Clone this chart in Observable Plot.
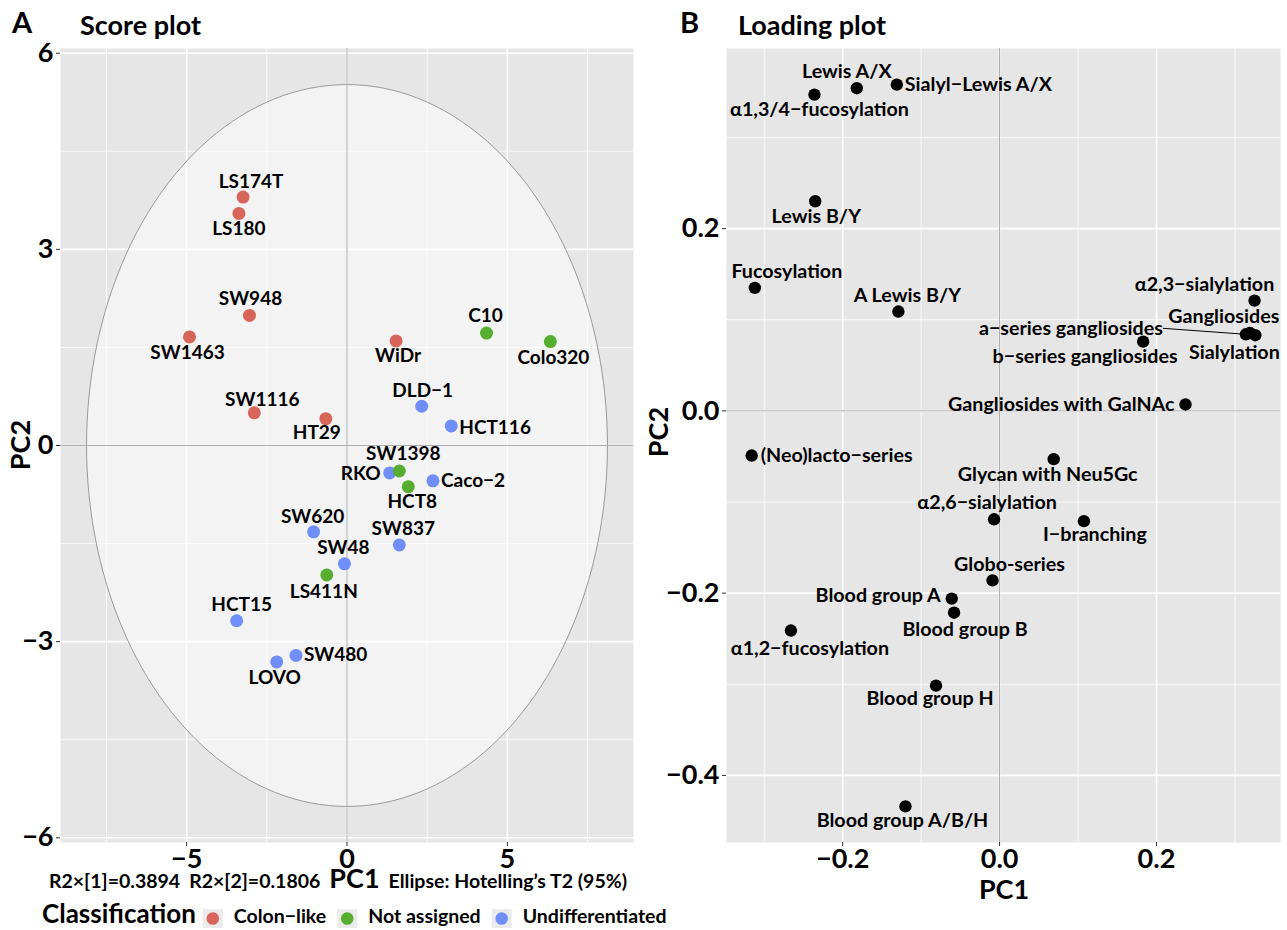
<!DOCTYPE html>
<html>
<head>
<meta charset="utf-8">
<script src="https://cdn.jsdelivr.net/npm/d3@7"></script>
<script src="https://cdn.jsdelivr.net/npm/@observablehq/plot@0.6"></script>
<style>
  body { margin: 0; background: #fff; }
  #wrap { position: relative; width: 1287px; height: 930px; overflow: hidden; font-family: Lato, sans-serif; }
  #wrap > svg, #wrap > figure { position: absolute; margin: 0; }
</style>
</head>
<body>
<div id="wrap"></div>
<script>
// ---------------- DATA ----------------
const cellLines = ["LS174T","LS180","SW948","SW1463","WiDr","C10","Colo320","SW1116","HT29","DLD−1","HCT116","RKO","SW1398","Caco−2","HCT8","SW620","SW837","SW48","LS411N","HCT15","SW480","LOVO"];
const scorePC1 = [-3.24,-3.37,-3.04,-4.91,1.53,4.35,6.34,-2.89,-0.66,2.33,3.25,1.33,1.63,2.68,1.91,-1.04,1.63,-0.08,-0.63,-3.44,-1.59,-2.19];
const scorePC2 = [3.80,3.55,1.99,1.66,1.60,1.72,1.59,0.50,0.41,0.60,0.30,-0.42,-0.39,-0.54,-0.63,-1.32,-1.52,-1.81,-1.98,-2.68,-3.21,-3.31];
const cellClass = ["Colon−like","Colon−like","Colon−like","Colon−like","Colon−like","Not assigned","Not assigned","Colon−like","Colon−like","Undifferentiated","Undifferentiated","Undifferentiated","Not assigned","Undifferentiated","Not assigned","Undifferentiated","Undifferentiated","Undifferentiated","Not assigned","Undifferentiated","Undifferentiated","Undifferentiated"];
const classNames = ["Colon−like","Not assigned","Undifferentiated"];
const r2x = ["0.3894","0.1806"];
const ellipseRadii = [8.12, 5.52]; // Hotelling's T2 (95%) semi-axes
const scoreTicksX = [-5, 0, 5];
const scoreTicksY = [-6, -3, 0, 3, 6];

const glycanFeatures = ["α1,3/4−fucosylation","Lewis A/X","Sialyl−Lewis A/X","Lewis B/Y","Fucosylation","A Lewis B/Y","α2,3−sialylation","Gangliosides","Sialylation","a−series gangliosides","b−series gangliosides","Gangliosides with GalNAc","(Neo)lacto−series","Glycan with Neu5Gc","α2,6−sialylation","I−branching","Globo-series","Blood group A","Blood group B","α1,2−fucosylation","Blood group H","Blood group A/B/H"];
const loadPC1 = [-0.236,-0.182,-0.131,-0.235,-0.312,-0.129,0.325,0.319,0.326,0.314,0.183,0.237,-0.316,0.069,-0.007,0.1075,-0.009,-0.061,-0.058,-0.266,-0.081,-0.120];
const loadPC2 = [0.347,0.354,0.358,0.230,0.135,0.109,0.121,0.0855,0.083,0.084,0.076,0.007,-0.049,-0.053,-0.119,-0.121,-0.186,-0.206,-0.2215,-0.241,-0.3015,-0.434];
const loadTicksX = [-0.2, 0, 0.2];
const loadTicksY = [-0.4, -0.2, 0, 0.2];

// ---------------- STYLE / LAYOUT ----------------
const classColors = ["#d8655a", "#57ad2f", "#6f8ef7"];
const panelBg = "#e6e6e6";
const FONT = "Lato, sans-serif";
// label placement: [textAnchor, dx px, dy px] relative to the point (repel-like layout)
const scoreLabelLayout = {
  "LS174T":["middle",8,-15], "LS180":["middle",0,16], "SW948":["middle",1,-16], "SW1463":["middle",-2,16],
  "WiDr":["middle",2,15], "C10":["middle",-1,-17], "Colo320":["middle",3,16], "SW1116":["middle",8,-13],
  "HT29":["middle",-9,14], "DLD−1":["middle",1,-15], "HCT116":["start",8,2], "RKO":["end",-9,1],
  "SW1398":["middle",4,-17], "Caco−2":["start",8,0], "HCT8":["middle",4,15], "SW620":["middle",-1,-15],
  "SW837":["middle",4,-16], "SW48":["middle",-1,-16], "LS411N":["middle",-3,17], "HCT15":["middle",5,-16],
  "SW480":["start",8,0], "LOVO":["middle",-2,16]
};
const loadLabelLayout = {
  "α1,3/4−fucosylation":["middle",5,15], "Lewis A/X":["middle",-10,-17], "Sialyl−Lewis A/X":["start",8,0],
  "Lewis B/Y":["middle",1,15], "Fucosylation":["middle",32,-16], "A Lewis B/Y":["middle",9,-16],
  "α2,3−sialylation":["middle",-50,-16], "Gangliosides":["middle",-26,-16], "Sialylation":["middle",-21,17],
  "a−series gangliosides":["end",-83,-6], "b−series gangliosides":["middle",-58,15],
  "Gangliosides with GalNAc":["end",-11,0], "(Neo)lacto−series":["start",9,0], "Glycan with Neu5Gc":["middle",-6,16],
  "α2,6−sialylation":["middle",-7,-17], "I−branching":["middle",11,14], "Globo-series":["middle",17,-16],
  "Blood group A":["end",-11,-3], "Blood group B":["middle",11,17], "α1,2−fucosylation":["middle",19,18],
  "Blood group H":["middle",-6,13], "Blood group A/B/H":["middle",-3,14]
};
const leaderLabels = ["a−series gangliosides"];

// ---------------- HELPERS ----------------
const wrap = document.getElementById("wrap");
function expand(lo, hi, f = 0.05) { const r = hi - lo; return [lo - f * r, hi + f * r]; }
function minorTicks(major, dom) {
  const step = major[1] - major[0];
  const out = [];
  for (let t = major[0] - step / 2; t <= dom[1]; t += step) if (t >= dom[0]) out.push(t);
  return out;
}

function buildPanel(cfg) {
  const {left, width, height, ml, mr, mt, mb, xDom, yDom, xTicks, yTicks, fmt, rows, labelLayout, r, labelSize, extraMarks} = cfg;
  const sx = d3.scaleLinear().domain(xDom).range([ml, width - mr]);
  const sy = d3.scaleLinear().domain(yDom).range([height - mb, mt]);
  const placed = rows.map(d => {
    const [anchor, dx, dy] = labelLayout[d.name];
    return {...d, anchor, lx: sx.invert(sx(d.x) + dx), ly: sy.invert(sy(d.y) + dy)};
  });
  const textOpts = anchor => ({x: "lx", y: "ly", text: "name", textAnchor: anchor, fontSize: labelSize, fontWeight: "bold", fill: "#000"});
  const leaders = placed.filter(d => leaderLabels.includes(d.name));
  const chart = Plot.plot({
    width, height, marginLeft: ml, marginRight: mr, marginTop: mt, marginBottom: mb,
    x: {domain: xDom}, y: {domain: yDom},
    style: {fontFamily: FONT, color: "#000", background: "transparent", overflow: "visible"},
    marks: [
      Plot.frame({fill: panelBg, stroke: null}),
      Plot.ruleX(minorTicks(xTicks, xDom), {stroke: "#fff", strokeWidth: 0.8}),
      Plot.ruleY(minorTicks(yTicks, yDom), {stroke: "#fff", strokeWidth: 0.8}),
      Plot.ruleX(xTicks, {stroke: "#fff", strokeWidth: 1.6}),
      Plot.ruleY(yTicks, {stroke: "#fff", strokeWidth: 1.6}),
      ...(extraMarks || []),
      Plot.ruleX([0], {stroke: "#ababab", strokeWidth: 1}),
      Plot.ruleY([0], {stroke: "#ababab", strokeWidth: 1}),
      Plot.link(leaders, {x1: "lx", y1: "ly", x2: "x", y2: "y", stroke: "#000", strokeWidth: 1}),
      Plot.dot(rows, {x: "x", y: "y", r, fill: "color", stroke: null}),
      Plot.text(placed.filter(d => d.anchor === "middle"), textOpts("middle")),
      Plot.text(placed.filter(d => d.anchor === "start"), textOpts("start")),
      Plot.text(placed.filter(d => d.anchor === "end"), textOpts("end")),
      Plot.axisX(xTicks, {tickFormat: fmt, fontSize: 27, fontWeight: "bold", tickSize: 4, tickPadding: 2, label: null, stroke: "#333", fill: "#000"}),
      Plot.axisY(yTicks, {tickFormat: fmt, fontSize: 27, fontWeight: "bold", tickSize: 4, tickPadding: 3, label: null, stroke: "#333", fill: "#000"})
    ]
  });
  chart.style.left = left + "px";
  chart.style.top = "0px";
  wrap.appendChild(chart);
}

// ---------------- PANEL A: score plot ----------------
const scoreRows = cellLines.map((name, i) => ({
  name, x: scorePC1[i], y: scorePC2[i], color: classColors[classNames.indexOf(cellClass[i])]
}));
const ellipseAngles = d3.range(0, 361, 2).map(a => a * Math.PI / 180);
const ellipsePts = ellipseAngles.map(t => ({x: ellipseRadii[0] * Math.cos(t), y: ellipseRadii[1] * Math.sin(t)}));
const scoreXDom = expand(-ellipseRadii[0], ellipseRadii[0]);
const scoreYDom = expand(-ellipseRadii[1], ellipseRadii[1]);

buildPanel({
  left: 0, width: 640, height: 900, ml: 60, mr: 7, mt: 48, mb: 58,
  xDom: scoreXDom, yDom: scoreYDom, xTicks: scoreTicksX, yTicks: scoreTicksY,
  fmt: d3.format("d"), rows: scoreRows, labelLayout: scoreLabelLayout, r: 6.5, labelSize: 19,
  extraMarks: [Plot.line(ellipsePts, {x: "x", y: "y", fill: "#fff", fillOpacity: 0.5, stroke: "#9a9a9a", strokeWidth: 1})]
});

// ---------------- PANEL B: loading plot ----------------
const loadRows = glycanFeatures.map((name, i) => ({name, x: loadPC1[i], y: loadPC2[i], color: "#000"}));
buildPanel({
  left: 640, width: 647, height: 900, ml: 86, mr: 7, mt: 48, mb: 58,
  xDom: expand(d3.min(loadPC1), d3.max(loadPC1)), yDom: expand(d3.min(loadPC2), d3.max(loadPC2)),
  xTicks: loadTicksX, yTicks: loadTicksY, fmt: d3.format(".1f"),
  rows: loadRows, labelLayout: loadLabelLayout, r: 6.2, labelSize: 19.7
});

// ---------------- TITLES, AXIS TITLES, LEGEND ----------------
const ov = d3.create("svg").attr("width", 1287).attr("height", 930)
  .style("left", "0px").style("top", "0px").style("pointer-events", "none")
  .style("font-family", FONT).style("font-weight", "bold");
wrap.appendChild(ov.node());
function txt(x, y, s, size, anchor = "start", rot = 0) {
  const t = ov.append("text").attr("x", x).attr("y", y).attr("font-size", size).attr("text-anchor", anchor).attr("fill", "#000").text(s);
  if (rot) t.attr("transform", `rotate(${rot},${x},${y})`);
  return t;
}
txt(12, 33, "A", 29);
txt(80, 35, "Score plot", 27);
txt(680, 33, "B", 29);
txt(738, 35, "Loading plot", 27);
txt(30, 445, "PC2", 27, "middle", -90);
txt(668, 432, "PC2", 27, "middle", -90);
txt(1004, 899, "PC1", 27, "middle");

// composite x-axis title of panel A
const t1 = ov.append("text").attr("x", 338).attr("y", 888).attr("text-anchor", "middle").attr("fill", "#000");
t1.append("tspan").attr("font-size", 19.5).text(`R2×[1]=${r2x[0]}`);
t1.append("tspan").attr("font-size", 19.5).attr("dx", 9).text(`R2×[2]=${r2x[1]}`);
t1.append("tspan").attr("font-size", 27).attr("dx", 9).text("PC1");
t1.append("tspan").attr("font-size", 19.5).attr("dx", 9).text("Ellipse: Hotelling’s T2 (95%)");

// legend
let lx = 42;
const lt = txt(lx, 923, "Classification", 26);
lx += lt.node().getComputedTextLength() + 7;
classNames.forEach((c, i) => {
  ov.append("rect").attr("x", lx).attr("y", 909).attr("width", 20).attr("height", 19).attr("fill", "#ebebeb");
  ov.append("circle").attr("cx", lx + 10).attr("cy", 918.5).attr("r", 6.3).attr("fill", classColors[i]);
  lx += 31;
  const t = txt(lx, 923, c, 19.5);
  lx += t.node().getComputedTextLength() + 11;
});
</script>
</body>
</html>
